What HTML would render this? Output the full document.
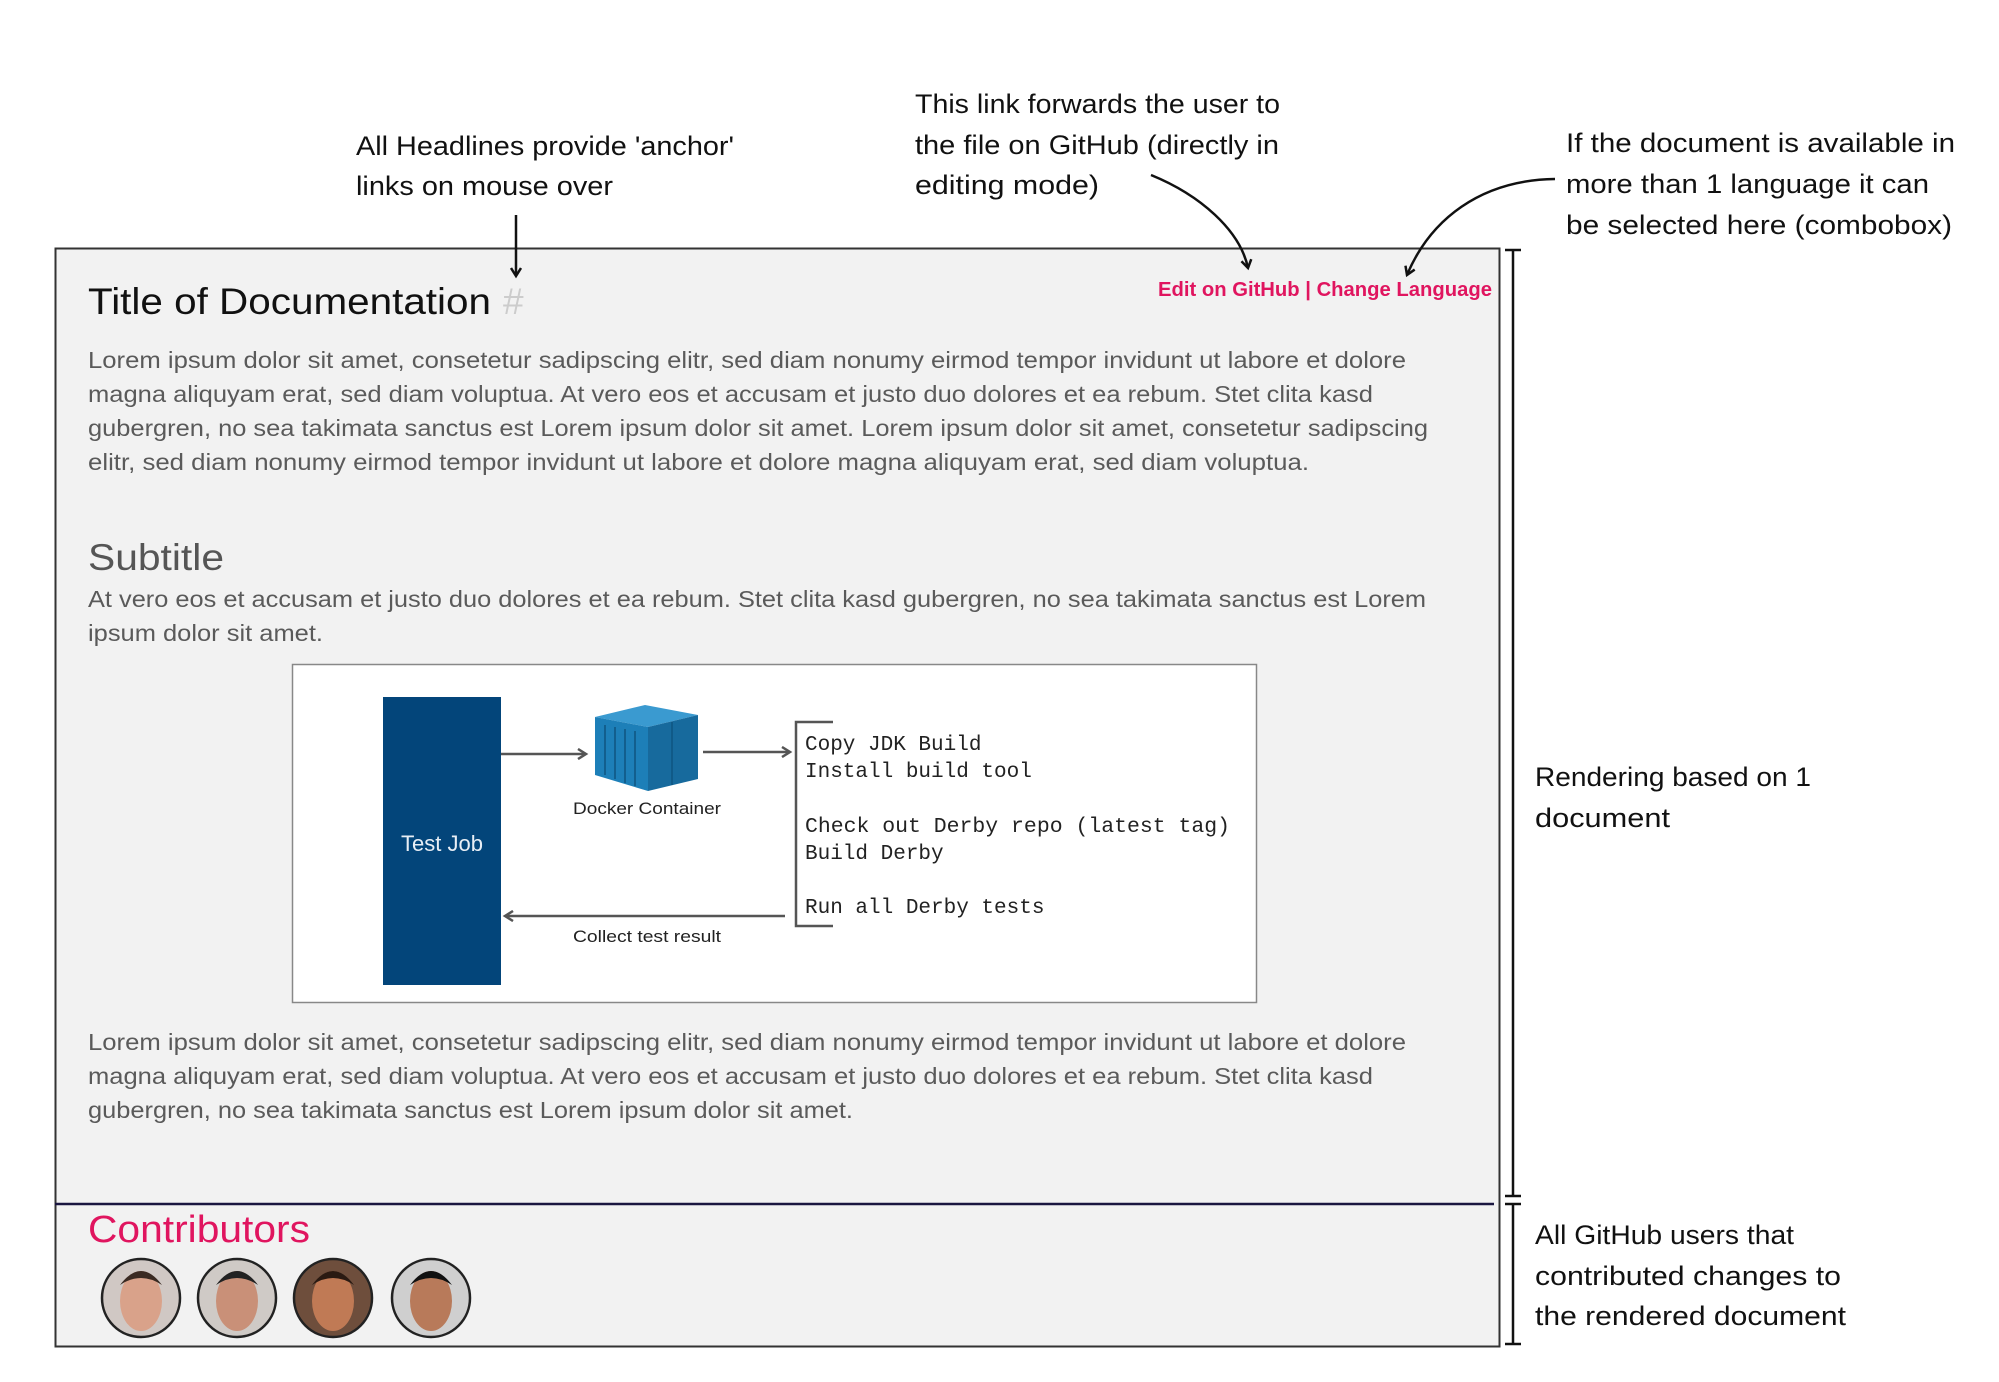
<!DOCTYPE html>
<html><head><meta charset="utf-8"><style>
html,body{margin:0;padding:0;background:#fff;width:1999px;height:1382px;overflow:hidden}
svg text{font-family:"Liberation Sans",sans-serif}
.an{font-size:27px;fill:#111}
.p{font-size:23px;fill:#5a5a5a}
.m{font-family:"Liberation Mono",monospace;font-size:21px;fill:#222}
</style></head><body>
<svg width="1999" height="1382" viewBox="0 0 1999 1382" xmlns="http://www.w3.org/2000/svg">
<defs>
<marker id="ah" markerWidth="12" markerHeight="12" refX="9" refY="6" orient="auto" markerUnits="userSpaceOnUse"><path d="M1,1 L9,6 L1,11" fill="none" stroke="#111" stroke-width="2.5"/></marker>
<marker id="ag" markerWidth="12" markerHeight="12" refX="9" refY="6" orient="auto" markerUnits="userSpaceOnUse"><path d="M1,1 L9,6 L1,11" fill="none" stroke="#555" stroke-width="2.5"/></marker>
</defs>
<rect x="55.5" y="248.5" width="1444" height="1098" fill="#f2f2f2" stroke="#333" stroke-width="2"/>

<text class="an" x="356" y="155" textLength="378" lengthAdjust="spacingAndGlyphs">All Headlines provide 'anchor'</text>
<text class="an" x="356" y="195" textLength="257" lengthAdjust="spacingAndGlyphs">links on mouse over</text>
<line x1="516" y1="215" x2="516" y2="276" stroke="#111" stroke-width="2.5" marker-end="url(#ah)"/>

<text class="an" x="915" y="113" textLength="365" lengthAdjust="spacingAndGlyphs">This link forwards the user to</text>
<text class="an" x="915" y="154" textLength="364" lengthAdjust="spacingAndGlyphs">the file on GitHub (directly in</text>
<text class="an" x="915" y="194" textLength="184" lengthAdjust="spacingAndGlyphs">editing mode)</text>
<path d="M1151,175 C1200,195 1240,230 1248,268" fill="none" stroke="#111" stroke-width="2.5" marker-end="url(#ah)"/>

<text class="an" x="1566" y="152" textLength="389" lengthAdjust="spacingAndGlyphs">If the document is available in</text>
<text class="an" x="1566" y="193" textLength="363" lengthAdjust="spacingAndGlyphs">more than 1 language it can</text>
<text class="an" x="1566" y="234" textLength="386" lengthAdjust="spacingAndGlyphs">be selected here (combobox)</text>
<path d="M1555,179 C1480,180 1430,220 1407,275" fill="none" stroke="#111" stroke-width="2.5" marker-end="url(#ah)"/>

<text x="1158" y="296" font-size="20" font-weight="bold" fill="#e0155f" textLength="334" lengthAdjust="spacingAndGlyphs">Edit on GitHub | Change Language</text>
<text x="88" y="314" font-size="37" fill="#111" textLength="403" lengthAdjust="spacingAndGlyphs">Title of Documentation</text>
<text x="503" y="314" font-size="37" fill="#ccc">#</text>

<text class="p" x="88" y="368" textLength="1318" lengthAdjust="spacingAndGlyphs">Lorem ipsum dolor sit amet, consetetur sadipscing elitr, sed diam nonumy eirmod tempor invidunt ut labore et dolore</text>
<text class="p" x="88" y="402" textLength="1285" lengthAdjust="spacingAndGlyphs">magna aliquyam erat, sed diam voluptua. At vero eos et accusam et justo duo dolores et ea rebum. Stet clita kasd</text>
<text class="p" x="88" y="436" textLength="1340" lengthAdjust="spacingAndGlyphs">gubergren, no sea takimata sanctus est Lorem ipsum dolor sit amet. Lorem ipsum dolor sit amet, consetetur sadipscing</text>
<text class="p" x="88" y="470" textLength="1221" lengthAdjust="spacingAndGlyphs">elitr, sed diam nonumy eirmod tempor invidunt ut labore et dolore magna aliquyam erat, sed diam voluptua.</text>

<text x="88" y="570" font-size="37" fill="#555" textLength="136" lengthAdjust="spacingAndGlyphs">Subtitle</text>
<text class="p" x="88" y="607" textLength="1338" lengthAdjust="spacingAndGlyphs">At vero eos et accusam et justo duo dolores et ea rebum. Stet clita kasd gubergren, no sea takimata sanctus est Lorem</text>
<text class="p" x="88" y="641" textLength="235" lengthAdjust="spacingAndGlyphs">ipsum dolor sit amet.</text>

<g transform="translate(0,-3)">
<rect x="292.5" y="667.5" width="964" height="338" fill="#fff" stroke="#888" stroke-width="1.5"/>
<rect x="383" y="700" width="118" height="288" fill="#03457a"/>
<text x="442" y="854" font-size="22" fill="#e8eef5" text-anchor="middle">Test Job</text>
<polygon points="595,720 645,708 698,718 648,730" fill="#3a9ad0"/>
<polygon points="595,720 648,730 648,794 595,778" fill="#1d7fb8"/>
<polygon points="648,730 698,718 698,782 648,794" fill="#176a9d"/>
<g stroke="#0f5580" stroke-width="1.5">
<line x1="605" y1="728" x2="605" y2="778"/><line x1="615" y1="730" x2="615" y2="782"/><line x1="625" y1="732" x2="625" y2="786"/><line x1="635" y1="734" x2="635" y2="789"/>
<line x1="672" y1="725" x2="672" y2="788"/></g>
<text x="647" y="817" font-size="17" fill="#222" text-anchor="middle" textLength="148" lengthAdjust="spacingAndGlyphs">Docker Container</text>
<line x1="501" y1="757" x2="586" y2="757" stroke="#555" stroke-width="2.5" marker-end="url(#ag)"/>
<line x1="703" y1="755" x2="790" y2="755" stroke="#555" stroke-width="2.5" marker-end="url(#ag)"/>
<path d="M833,725 L796,725 L796,929 L833,929" fill="none" stroke="#555" stroke-width="2.5"/>
<text class="m" x="805" y="753">Copy JDK Build</text>
<text class="m" x="805" y="780">Install build tool</text>
<text class="m" x="805" y="835" textLength="425" lengthAdjust="spacingAndGlyphs">Check out Derby repo (latest tag)</text>
<text class="m" x="805" y="862">Build Derby</text>
<text class="m" x="805" y="916">Run all Derby tests</text>
<line x1="785" y1="919" x2="505" y2="919" stroke="#555" stroke-width="2.5" marker-end="url(#ag)"/>
<text x="647" y="945" font-size="17" fill="#222" text-anchor="middle" textLength="148" lengthAdjust="spacingAndGlyphs">Collect test result</text>
</g>

<text class="p" x="88" y="1050" textLength="1318" lengthAdjust="spacingAndGlyphs">Lorem ipsum dolor sit amet, consetetur sadipscing elitr, sed diam nonumy eirmod tempor invidunt ut labore et dolore</text>
<text class="p" x="88" y="1084" textLength="1285" lengthAdjust="spacingAndGlyphs">magna aliquyam erat, sed diam voluptua. At vero eos et accusam et justo duo dolores et ea rebum. Stet clita kasd</text>
<text class="p" x="88" y="1118" textLength="765" lengthAdjust="spacingAndGlyphs">gubergren, no sea takimata sanctus est Lorem ipsum dolor sit amet.</text>

<line x1="55" y1="1204" x2="1494" y2="1204" stroke="#1a1640" stroke-width="2.5"/>
<text x="88" y="1242" font-size="38" fill="#e0155f" textLength="222" lengthAdjust="spacingAndGlyphs">Contributors</text>
<g transform="translate(0,-5)">
<g stroke="#222" stroke-width="2.5">
<circle cx="141" cy="1303" r="39" fill="#d0c8c4"/>
<circle cx="237" cy="1303" r="39" fill="#cfcac6"/>
<circle cx="333" cy="1303" r="39" fill="#6e4e3c"/>
<circle cx="431" cy="1303" r="39" fill="#cfcfcf"/>
</g>
<ellipse cx="141" cy="1306" rx="21" ry="30" fill="#d9a28a"/>
<ellipse cx="237" cy="1306" rx="21" ry="30" fill="#c99078"/>
<ellipse cx="333" cy="1306" rx="21" ry="30" fill="#c07a55"/>
<ellipse cx="431" cy="1306" rx="21" ry="30" fill="#b87a5a"/>
<path d="M120,1290 Q141,1262 162,1290 Q141,1276 120,1290Z" fill="#3a2a22"/>
<path d="M216,1290 Q237,1262 258,1290 Q237,1276 216,1290Z" fill="#222"/>
<path d="M312,1290 Q333,1262 354,1290 Q333,1276 312,1290Z" fill="#2a1a12"/>
<path d="M410,1290 Q431,1262 452,1290 Q431,1276 410,1290Z" fill="#111"/>
</g>

<g stroke="#111" stroke-width="2.5">
<line x1="1513" y1="250" x2="1513" y2="1196"/><line x1="1505" y1="250" x2="1521" y2="250"/><line x1="1505" y1="1196" x2="1521" y2="1196"/>
<line x1="1513" y1="1204" x2="1513" y2="1344"/><line x1="1505" y1="1204" x2="1521" y2="1204"/><line x1="1505" y1="1344" x2="1521" y2="1344"/>
</g>
<text class="an" x="1535" y="786" textLength="276" lengthAdjust="spacingAndGlyphs">Rendering based on 1</text>
<text class="an" x="1535" y="827" textLength="135" lengthAdjust="spacingAndGlyphs">document</text>
<text class="an" x="1535" y="1244" textLength="259" lengthAdjust="spacingAndGlyphs">All GitHub users that</text>
<text class="an" x="1535" y="1285" textLength="306" lengthAdjust="spacingAndGlyphs">contributed changes to</text>
<text class="an" x="1535" y="1325" textLength="311" lengthAdjust="spacingAndGlyphs">the rendered document</text>
</svg>
</body></html>
